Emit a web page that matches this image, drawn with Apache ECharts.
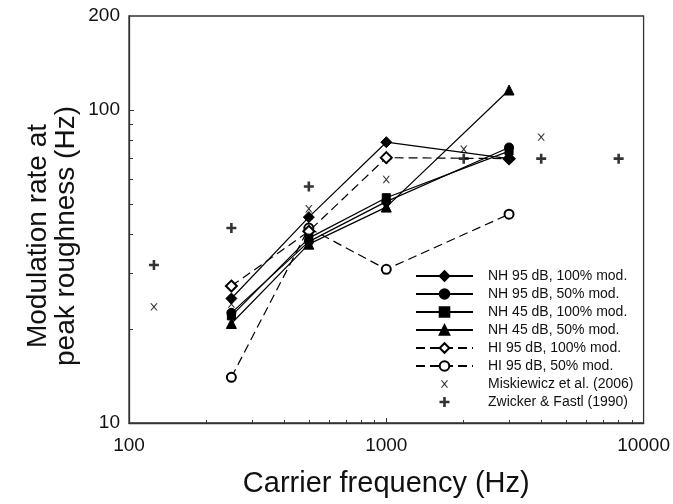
<!DOCTYPE html>
<html>
<head>
<meta charset="utf-8">
<script src="https://cdn.jsdelivr.net/npm/echarts@6/dist/echarts.min.js"></script>
<style>
  html, body { margin: 0; padding: 0; background: #fff; }
  #chart { width: 673px; height: 504px; }
</style>
</head>
<body>
<div id="chart"></div>
<script>
// Carrier frequencies (Hz) of the measured conditions
const carrierFreqs = [250, 500, 1000, 3000];

// Modulation rate (Hz) at peak roughness for each condition
const nh95Full = [25, 45.5, 79, 70];
const nh95Half = [22.5, 38, 51, 76];
const nh45Full = [22, 39, 52.5, 74];
const nh45Half = [20.8, 37.3, 49, 116];
const hi95Full = [27.4, 41, 70.5, 70];
const hi95Half = [14, 42, 31, 46.5];

// Literature values
const miskFreqs = [125, 250, 500, 1000, 2000, 4000];
const miskRates = [23.5, 24, 48.4, 60, 75, 82];
const zwickerFreqs = [125, 250, 500, 1000, 2000, 4000, 8000];
const zwickerRates = [32, 42, 57, 70, 70, 70, 70];

// Axis ticks and labels
const xMajorTicks = [100, 1000, 10000];
const xMinorTicks = [200, 300, 400, 500, 600, 700, 800, 900, 2000, 3000, 4000, 5000, 6000, 7000, 8000, 9000];
const yLabels = [10, 100, 200];
const yMajorTicks = [10, 100];
const yMinorTicks = [20, 30, 40, 50, 60, 70, 80, 90];

const seriesNames = [
  'NH 95 dB, 100% mod.',
  'NH 95 dB, 50% mod.',
  'NH 45 dB, 100% mod.',
  'NH 45 dB, 50% mod.',
  'HI 95 dB, 100% mod.',
  'HI 95 dB, 50% mod.',
  'Miskiewicz et al. (2006)',
  'Zwicker & Fastl (1990)'
];

const FONT = '"Liberation Sans", Arial, Helvetica, sans-serif';
const INK = '#000';

// Marker shapes drawn inside a 12x12 box (leading moves fix the box size)
const PLUS_PATH = 'path://M0,0M12,12M4.7,1H7.3V4.7H11V7.3H7.3V11H4.7V7.3H1V4.7H4.7Z';
const CROSS_PATH = 'path://M0,0M12,12M2.3,2.3L3.6,2.3L6,5.1L8.4,2.3L9.7,2.3L6.7,6L9.7,9.7L8.4,9.7L6,6.9L3.6,9.7L2.3,9.7L5.3,6Z';

function pairs(xs, ys) {
  return xs.map((x, i) => [x, ys[i]]);
}

function plainNumber(v) {
  return String(Math.round(v));
}

function lineSeries(name, values, symbol, size, dashed) {
  return {
    name: name,
    type: 'line',
    xAxisIndex: 0,
    yAxisIndex: 0,
    data: pairs(carrierFreqs, values),
    symbol: symbol,
    symbolSize: size,
    showAllSymbol: true,
    lineStyle: { color: INK, width: 1.2, type: dashed ? [9, 5] : 'solid' },
    itemStyle: { color: INK, borderColor: INK, borderWidth: 1 },
    emphasis: { disabled: true },
    z: 3
  };
}

const chart = echarts.init(document.getElementById('chart'), null, { renderer: 'canvas' });

const gridBox = { left: 129, right: 26, top: 16, bottom: 81 };

const option = {
  backgroundColor: '#fff',
  animation: false,
  textStyle: { fontFamily: FONT },
  grid: Object.assign({ show: true, borderColor: '#333', borderWidth: 1.3, backgroundColor: 'transparent', containLabel: false }, gridBox),
  xAxis: [
    {
      type: 'log',
      logBase: 10,
      min: 100,
      max: 10000,
      position: 'bottom',
      name: 'Carrier frequency (Hz)',
      nameLocation: 'middle',
      nameGap: 46,
      nameTextStyle: { fontSize: 29, color: '#111', fontFamily: FONT },
      axisLine: { show: true, lineStyle: { color: '#333', width: 1.3 } },
      axisTick: { show: true, inside: true, length: 3, customValues: xMinorTicks, lineStyle: { color: '#333', width: 1 } },
      axisLabel: { show: true, customValues: xMajorTicks, formatter: plainNumber, fontSize: 19, color: '#111', margin: 13, fontFamily: FONT },
      splitLine: { show: false },
      minorTick: { show: false }
    },
    {
      type: 'log',
      logBase: 10,
      min: 100,
      max: 10000,
      position: 'bottom',
      axisLine: { show: false },
      axisTick: { show: true, inside: true, length: 5, customValues: xMajorTicks, lineStyle: { color: '#333', width: 1 } },
      axisLabel: { show: false },
      splitLine: { show: false }
    }
  ],
  yAxis: [
    {
      type: 'log',
      logBase: 10,
      min: 10,
      max: 200,
      position: 'left',
      axisLine: { show: true, lineStyle: { color: '#333', width: 1.3 } },
      axisTick: { show: true, inside: true, length: 4, customValues: yMinorTicks, lineStyle: { color: '#333', width: 1 } },
      axisLabel: { show: true, customValues: yLabels, formatter: plainNumber, fontSize: 19, color: '#111', margin: 9, fontFamily: FONT },
      splitLine: { show: false }
    },
    {
      type: 'log',
      logBase: 10,
      min: 10,
      max: 200,
      position: 'left',
      axisLine: { show: false },
      axisTick: { show: true, inside: true, length: 5, customValues: yMajorTicks, lineStyle: { color: '#333', width: 1 } },
      axisLabel: { show: false },
      splitLine: { show: false }
    }
  ],
  legend: {
    data: seriesNames,
    orient: 'vertical',
    left: 415,
    top: 269,
    padding: 0,
    itemWidth: 57,
    itemHeight: 12,
    itemGap: 4,
    selectedMode: false,
    textStyle: { fontSize: 14, color: '#111', fontFamily: FONT, padding: [0, 0, 0, 10] }
  },
  graphic: [
    {
      type: 'text',
      x: 52,
      y: 236,
      rotation: Math.PI / 2,
      style: {
        text: 'Modulation rate at\npeak roughness (Hz)',
        font: '28px ' + FONT,
        fill: '#111',
        align: 'center',
        verticalAlign: 'middle',
        lineHeight: 28
      }
    }
  ],
  series: [
    {
      name: seriesNames[7],
      type: 'scatter',
      data: pairs(zwickerFreqs, zwickerRates),
      symbol: PLUS_PATH,
      symbolSize: 12,
      symbolKeepAspect: true,
      itemStyle: { color: INK },
      emphasis: { disabled: true },
      z: 2
    },
    {
      name: seriesNames[6],
      type: 'scatter',
      data: pairs(miskFreqs, miskRates),
      symbol: CROSS_PATH,
      symbolSize: 12,
      symbolKeepAspect: true,
      itemStyle: { color: INK },
      emphasis: { disabled: true },
      z: 2
    },
    lineSeries(seriesNames[5], hi95Half, 'emptyCircle', 9, true),
    lineSeries(seriesNames[4], hi95Full, 'emptyDiamond', 11, true),
    lineSeries(seriesNames[3], nh45Half, 'triangle', 10, false),
    lineSeries(seriesNames[2], nh45Full, 'rect', 8, false),
    lineSeries(seriesNames[1], nh95Half, 'circle', 9, false),
    lineSeries(seriesNames[0], nh95Full, 'diamond', 11, false)
  ]
};

chart.setOption(option);
</script>
</body>
</html>
